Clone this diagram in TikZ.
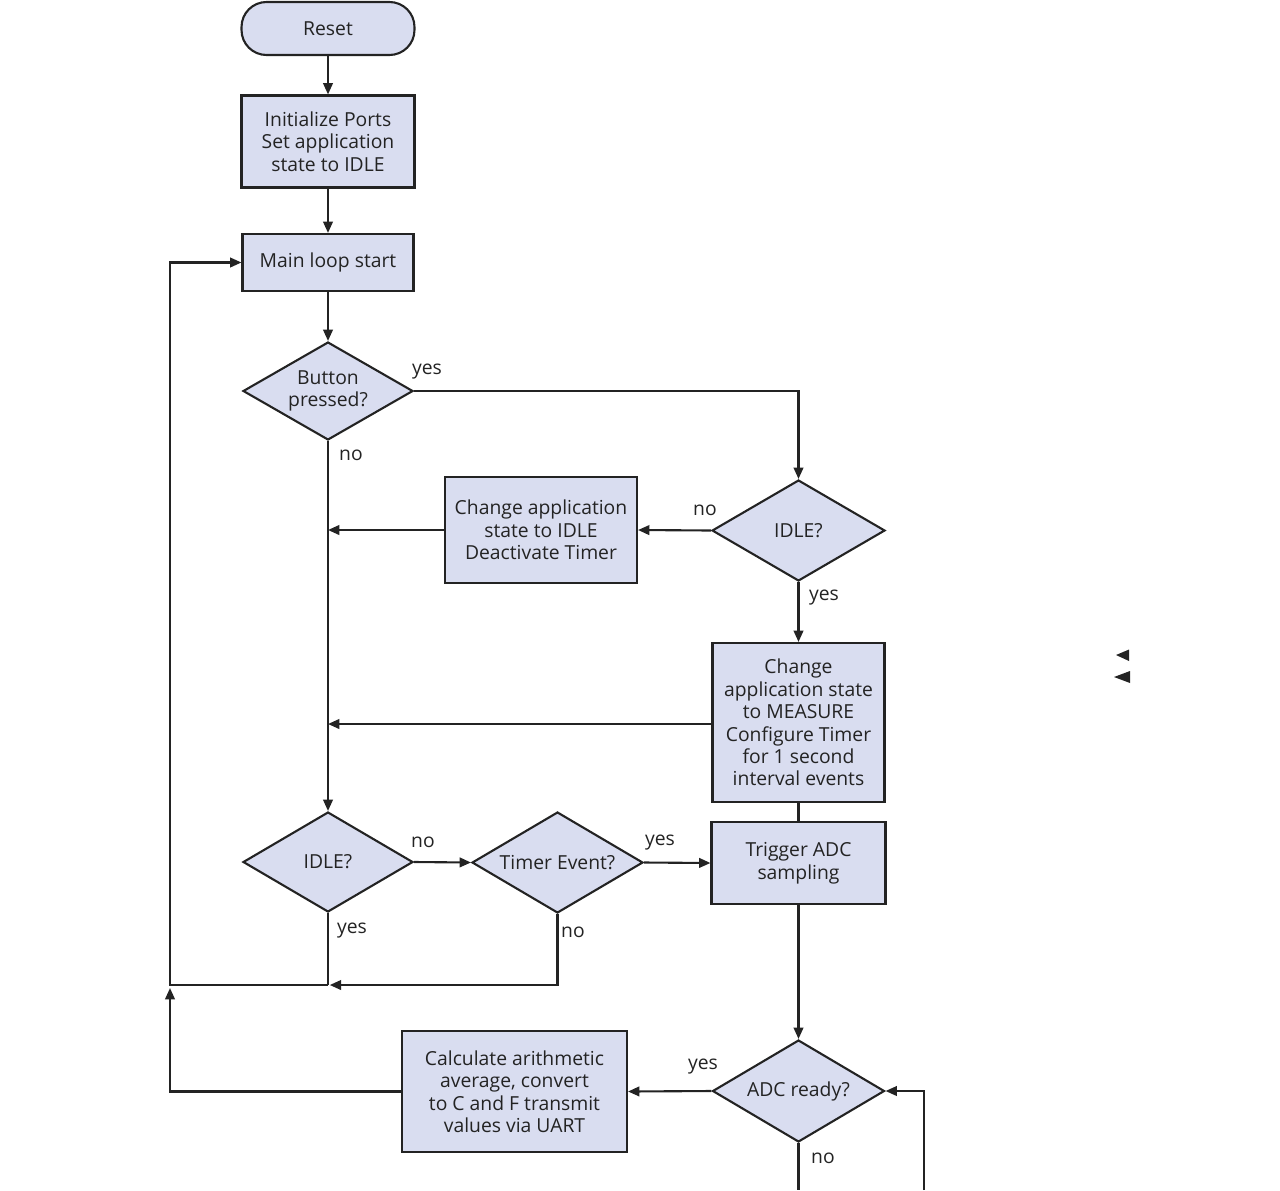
\documentclass[tikz,border=0pt]{standalone}
\usepackage{fontspec}
\setmainfont{Open Sans}
\usetikzlibrary{shapes.geometric,arrows.meta}
\definecolor{boxfill}{RGB}{217,221,240}
\definecolor{ink}{RGB}{35,35,35}
\tikzset{
  every node/.style={font=\fontsize{11}{12.8}\selectfont, text=ink},
  proc/.style={draw=ink, line width=1.2pt, fill=boxfill, rectangle, align=center, inner sep=0pt},
  term/.style={proc, rounded corners=0.5cm},
  decision/.style={draw=ink, line width=1.2pt, fill=boxfill, diamond, inner sep=0pt},
  dtext/.style={align=center, inner sep=0pt},
  conn/.style={draw=ink, line width=1.2pt},
  arr/.style={conn, -{Triangle[length=6.5pt,width=5.5pt]}},
  lbl/.style={inner sep=0pt}
}
\begin{document}
\begin{tikzpicture}[x=0.02cm,y=-0.02cm]
\useasboundingbox (0,0) rectangle (1280,1190);
% nodes
\node[term, minimum width=3.46cm, minimum height=1.06cm] (reset) at (328,28.5) {Reset};
\node[proc, minimum width=3.46cm, minimum height=1.84cm] (init) at (328,141.5) {Initialize Ports\\Set application\\state to IDLE};
\node[proc, minimum width=3.42cm, minimum height=1.14cm] (main) at (328,262.5) {Main loop start};
\node[decision, minimum width=3.40cm, minimum height=1.96cm] (btn) at (328,391) {};
\node[dtext] (btnt) at (btn) {Button\\pressed?};
\node[decision, minimum width=3.46cm, minimum height=2.02cm] (idleA) at (798.5,530.5) {};
\node[dtext] (idleAt) at (idleA) {IDLE?};
\node[proc, minimum width=3.84cm, minimum height=2.12cm] (chg) at (541,530) {Change application\\state to IDLE\\Deactivate Timer};
\node[proc, minimum width=3.44cm, minimum height=3.18cm] (meas) at (798.5,722.5) {Change\\application state\\to MEASURE\\Configure Timer\\for 1 second\\interval events};
\node[proc, minimum width=3.48cm, minimum height=1.64cm] (trig) at (798.5,863) {Trigger ADC\\sampling};
\node[decision, minimum width=3.40cm, minimum height=2.00cm] (idleB) at (328,862) {};
\node[dtext] (idleBt) at (idleB) {IDLE?};
\node[decision, minimum width=3.42cm, minimum height=2.02cm] (timer) at (557.5,862.5) {};
\node[dtext] (timert) at (timer) {Timer Event?};
\node[decision, minimum width=3.44cm, minimum height=2.04cm] (adc) at (798.5,1091) {};
\node[dtext] (adct) at (adc) {ADC ready?};
\node[proc, minimum width=4.50cm, minimum height=2.42cm] (calc) at (514.5,1091.5) {Calculate arithmetic\\average, convert\\to C and F transmit\\values via UART};
% coordinates
\coordinate (j1) at (328,530);
\coordinate (j2) at (328,724);
\coordinate (j3) at (328,985);
\coordinate (lc) at (170,985);
\coordinate (lb) at (170,1091.5);
\coordinate (la) at (170,988);
\coordinate (adcout) at (798.5,1190);
\coordinate (retbot) at (924,1190);
\coordinate (retmid) at (924,1091);
% labels
\node[lbl] (l1) at (427,372) {yes};
\node[lbl] (l2) at (351,455) {no};
\node[lbl] (l3) at (705,510) {no};
\node[lbl] (l4) at (824,598) {yes};
\node[lbl] (l5) at (423,842) {no};
\node[lbl] (l6) at (660,843) {yes};
\node[lbl] (l7) at (352,931) {yes};
\node[lbl] (l8) at (573,932) {no};
\node[lbl] (l9) at (703,1067) {yes};
\node[lbl] (l10) at (823,1158) {no};
% connectors
\draw[arr] (reset) -- (init);
\draw[arr] (init) -- (main);
\draw[arr] (main) -- (btn);
\draw[arr] (btn.east) -| (idleA.north);
\draw[arr] (idleA.west) -- (chg.east);
\draw[arr] (chg.west) -- (j1);
\draw[arr] (btn.south) -- (idleB.north);
\draw[arr] (idleA.south) -- (meas.north);
\draw[arr] (meas.west |- j2) -- (j2);
\draw[conn] (meas.south) -- (trig.north);
\draw[arr] (idleB.east) -- (timer.west);
\draw[arr] (timer.east) -- (trig.west);
\draw[conn] (idleB.south) -- (j3);
\draw[arr] (timer.south) |- ([xshift=1pt]j3);
\draw[arr] (j3) -- (lc) -- (170,262.5) -- (main.west);
\draw[arr] (calc.west) -- (lb) -- (la);
\draw[arr] (trig.south) -- (adc.north);
\draw[arr] (adc.west) -- (calc.east);
\draw[conn] (adc.south) -- (adcout);
\draw[arr] (retbot) -- (retmid) -- (adc.east);
% stray arrowheads
\fill[ink] (1116,655) -- (1129,649.5) -- (1129,661) -- cycle;
\fill[ink] (1114,677) -- (1130,671) -- (1130,683) -- cycle;
\end{tikzpicture}
\end{document}
